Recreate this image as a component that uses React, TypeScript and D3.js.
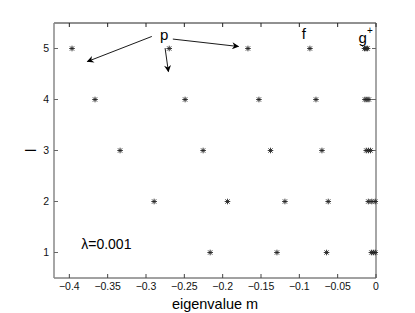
import * as d3 from "d3";

const WIDTH = 415;
const HEIGHT = 313;
const MARGIN = { top: 23, right: 39, bottom: 35, left: 54 };

// eigenvalues m for each level l
const L_VALUES = [1, 2, 3, 4, 5];
const M_L1 = [-0.2163, -0.1292, -0.0645, -0.006, -0.0035, -0.001];
const M_L2 = [-0.2894, -0.1937, -0.1188, -0.0623, -0.01, -0.0055, -0.001];
const M_L3 = [-0.3338, -0.2255, -0.1376, -0.0705, -0.0127, -0.0099, -0.0071];
const M_L4 = [-0.3665, -0.249, -0.1527, -0.0783, -0.0144, -0.0118, -0.0092];
const M_L5 = [-0.3965, -0.2697, -0.167, -0.0862, -0.015, -0.013, -0.011];
const M_BY_L = [M_L1, M_L2, M_L3, M_L4, M_L5];

const X_TICKS = [-0.4, -0.35, -0.3, -0.25, -0.2, -0.15, -0.1, -0.05, 0];
const Y_TICKS = [1, 2, 3, 4, 5];

// annotation arrows from "p" (data coordinates)
const P_LABEL = { m: -0.2764, l: 5.17 };
const P_ARROWS = [
  { from: [-0.2924, 5.236], to: [-0.3765, 4.744] },
  { from: [-0.2751, 5.008], to: [-0.2708, 4.547] },
  { from: [-0.265, 5.185], to: [-0.1794, 5.039] },
];
const F_LABEL = { m: -0.094, l: 5.19 };
const G_LABEL = { m: -0.0135, l: 5.1 };
const LAMBDA_LABEL = { m: -0.3845, l: 1.07 };

const fmt = (v: number) => (v === 0 ? "0" : String(v).replace("-", "\u2212"));

const Star = ({ x, y }: { x: number; y: number }) => {
  const r = 2.8;
  const d = r * 0.75;
  return (
    <g stroke="#222" strokeWidth={0.9}>
      <line x1={x - r} x2={x + r} y1={y} y2={y} />
      <line x1={x} x2={x} y1={y - r} y2={y + r} />
      <line x1={x - d} x2={x + d} y1={y - d} y2={y + d} />
      <line x1={x - d} x2={x + d} y1={y + d} y2={y - d} />
    </g>
  );
};

export default function App() {
  const boundsWidth = WIDTH - MARGIN.left - MARGIN.right;
  const boundsHeight = HEIGHT - MARGIN.top - MARGIN.bottom;

  const xScale = d3.scaleLinear().domain([-0.42, 0]).range([0, boundsWidth]);
  const yScale = d3.scaleLinear().domain([0.5, 5.5]).range([boundsHeight, 0]);

  const points = L_VALUES.flatMap((l, i) => M_BY_L[i].map((m) => ({ m, l })));

  const font = "'Liberation Sans', Arial, Helvetica, sans-serif";

  return (
    <svg
      width={WIDTH}
      height={HEIGHT}
      style={{ position: "absolute", left: 0, top: 0, background: "white" }}
      fontFamily={font}
    >
      <defs>
        <marker
          id="arrow"
          viewBox="0 0 10 10"
          refX={9}
          refY={5}
          markerWidth={9}
          markerHeight={7}
          markerUnits="userSpaceOnUse"
          orient="auto"
        >
          <path d="M0,0 L10,5 L0,10 L3,5 Z" fill="black" />
        </marker>
      </defs>
      <g transform={`translate(${MARGIN.left},${MARGIN.top})`}>
        {/* frame */}
        <line x1={0} x2={boundsWidth} y1={0} y2={0} stroke="#222" strokeWidth={1} />
        <line x1={0} x2={boundsWidth} y1={boundsHeight} y2={boundsHeight} stroke="#444" strokeWidth={1} />
        <line x1={0} x2={0} y1={0} y2={boundsHeight} stroke="#888" strokeWidth={1.5} />
        <line x1={boundsWidth} x2={boundsWidth} y1={0} y2={boundsHeight} stroke="#888" strokeWidth={1.5} />

        {/* x ticks */}
        {X_TICKS.map((t) => (
          <g key={t} transform={`translate(${xScale(t)},0)`}>
            <line y1={0} y2={4} stroke="#222" />
            <line y1={boundsHeight} y2={boundsHeight - 4} stroke="#444" />
            <text y={boundsHeight + 12} textAnchor="middle" fontSize={10.5} fill="#111">
              {fmt(t)}
            </text>
          </g>
        ))}

        {/* y ticks */}
        {Y_TICKS.map((t) => (
          <g key={t} transform={`translate(0,${yScale(t)})`}>
            <line x1={0} x2={4} stroke="#666" />
            <line x1={boundsWidth} x2={boundsWidth - 4} stroke="#666" />
            <text x={-5} dy="0.35em" textAnchor="end" fontSize={10.5} fill="#111">
              {t}
            </text>
          </g>
        ))}

        {/* data */}
        {points.map((p, i) => (
          <Star key={i} x={xScale(p.m)} y={yScale(p.l)} />
        ))}

        {/* annotations */}
        {P_ARROWS.map((a, i) => (
          <line
            key={i}
            x1={xScale(a.from[0])}
            y1={yScale(a.from[1])}
            x2={xScale(a.to[0])}
            y2={yScale(a.to[1])}
            stroke="black"
            strokeWidth={0.9}
            markerEnd="url(#arrow)"
          />
        ))}
        <text x={xScale(P_LABEL.m)} y={yScale(P_LABEL.l)} textAnchor="middle" fontSize={15}>
          p
        </text>
        <text x={xScale(F_LABEL.m)} y={yScale(F_LABEL.l)} textAnchor="middle" fontSize={15}>
          f
        </text>
        <text x={xScale(G_LABEL.m)} y={yScale(G_LABEL.l)} textAnchor="middle" fontSize={15}>
          g
          <tspan fontSize={10} dy={-9}>
            +
          </tspan>
        </text>
        <text x={xScale(LAMBDA_LABEL.m)} y={yScale(LAMBDA_LABEL.l)} fontSize={14}>
          λ=0.001
        </text>

        {/* axis labels */}
        <text
          x={boundsWidth / 2}
          y={boundsHeight + 31}
          textAnchor="middle"
          fontSize={14.5}
        >
          eigenvalue m
        </text>
        <text
          transform={`translate(${-18},${boundsHeight / 2}) rotate(-90)`}
          textAnchor="middle"
          fontSize={14.5}
        >
          l
        </text>
      </g>
    </svg>
  );
}
